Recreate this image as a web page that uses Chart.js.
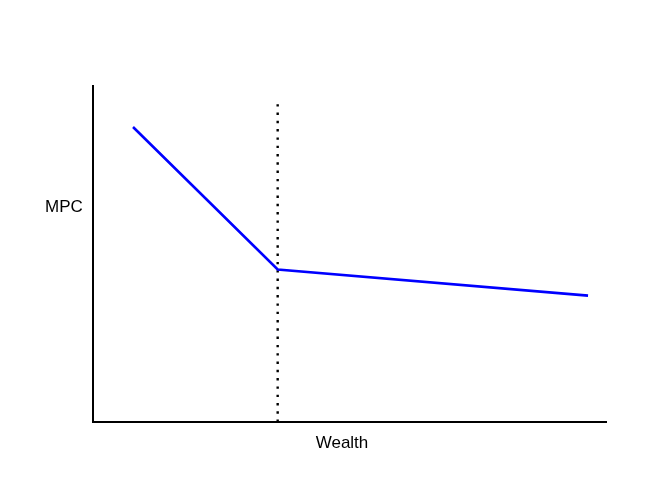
<!DOCTYPE html>
<html>
<head>
<meta charset="utf-8">
<script src="https://cdn.jsdelivr.net/npm/chart.js@4"></script>
<style>
  html, body { margin: 0; padding: 0; background: #fff; }
  #wrap { width: 666px; height: 500px; }
</style>
</head>
<body>
<div id="wrap"><canvas id="mpcChart"></canvas></div>
<script>
// MPC curve points (wealth, mpc)
const mpcX = [0.78, 3.6, 9.65];
const mpcY = [8.78, 4.54, 3.76];
// dotted threshold line
const threshX = [3.6, 3.6];
const threshY = [0, 9.49];

const xTitle = 'Wealth';
const yTitle = 'MPC';

// Axis labels are drawn by hand, MPC sits horizontal to the left of the axis
const axisLabels = {
    id: 'axisLabels',
    afterDraw(chart) {
        const ctx = chart.ctx;
        const area = chart.chartArea;
        ctx.save();
        ctx.fillStyle = '#000';
        ctx.font = '17px "Liberation Sans", Arial, sans-serif';
        ctx.textBaseline = 'middle';
        ctx.textAlign = 'center';
        ctx.fillText(xTitle, 342, area.bottom + 21);
        ctx.fillText(yTitle, 64, 207);
        ctx.restore();
    }
};

const ctx = document.getElementById('mpcChart').getContext('2d');
new Chart(ctx, {
    type: 'line',
    data: {
        datasets: [{
            data: mpcX.map((x, i) => ({ x: x, y: mpcY[i] })),
            borderColor: '#0000ff',
            borderWidth: 2.6,
            pointRadius: 0,
            tension: 0,
            clip: false
        }, {
            data: threshX.map((x, i) => ({ x: x, y: threshY[i] })),
            borderColor: '#000',
            borderWidth: 2.4,
            borderDash: [2.4, 5.9],
            pointRadius: 0,
            clip: false
        }]
    },
    options: {
        responsive: true,
        maintainAspectRatio: false,
        animation: false,
        layout: {
            padding: { left: 85, right: 60, top: 86, bottom: 70 }
        },
        scales: {
            x: {
                type: 'linear',
                min: 0,
                max: 10,
                grid: { display: false },
                ticks: { display: false },
                border: { display: true, color: '#000', width: 2 }
            },
            y: {
                min: 0,
                max: 10,
                grid: { display: false },
                ticks: { display: false },
                border: { display: true, color: '#000', width: 2 }
            }
        },
        plugins: {
            legend: { display: false },
            tooltip: { enabled: false }
        }
    },
    plugins: [axisLabels]
});
</script>
</body>
</html>
